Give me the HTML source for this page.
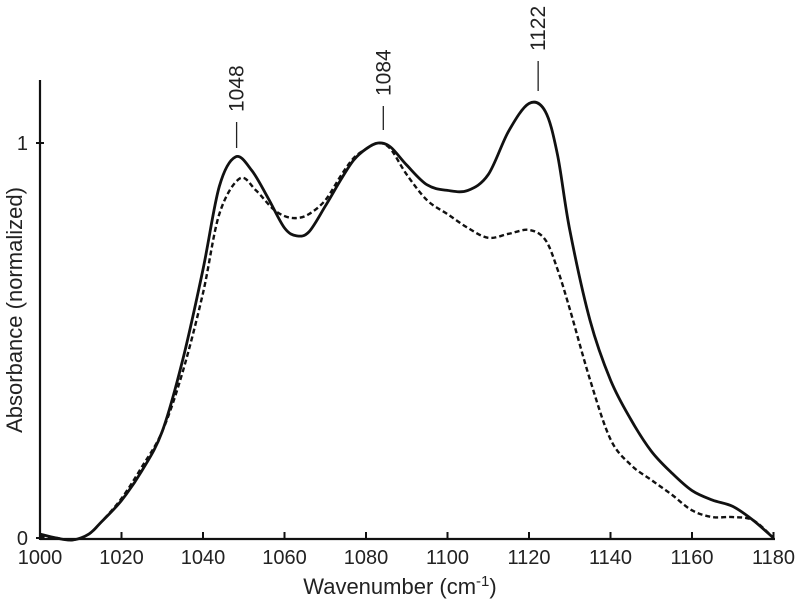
<!DOCTYPE html>
<html><head><meta charset="utf-8"><style>
html,body{margin:0;padding:0;background:#fff;}
svg{display:block;font-family:"Liberation Sans",sans-serif;}
</style></head><body>
<svg id="chart" width="800" height="604" viewBox="0 0 800 604">
<g id="axes"></g><g id="series"></g><g id="annots"></g>
<text x="400" y="594" font-size="22" text-anchor="middle" fill="#222">Wavenumber (cm<tspan dy="-8" font-size="15">-1</tspan><tspan dy="8">)</tspan></text>
<text transform="translate(22,310) rotate(-90)" font-size="22" text-anchor="middle" fill="#222">Absorbance (normalized)</text>
</svg>
<script>
const xTicks=[1000,1020,1040,1060,1080,1100,1120,1140,1160,1180];
const yTicks=[0,1];
const solidX=[1000,1004,1008,1012,1015,1020,1025,1030,1035,1040,1044,1048,1052,1056,1060,1063,1066,1070,1074,1077,1080,1083,1086,1090,1095,1100,1105,1110,1115,1120,1124,1127,1130,1135,1140,1145,1150,1155,1160,1165,1170,1175,1180];
const solidY=[0.01,0.0,-0.005,0.01,0.04,0.095,0.17,0.27,0.45,0.68,0.89,0.965,0.93,0.86,0.785,0.765,0.775,0.84,0.91,0.957,0.985,1.0,0.99,0.944,0.894,0.88,0.88,0.92,1.03,1.10,1.08,0.97,0.78,0.55,0.40,0.30,0.22,0.165,0.12,0.096,0.08,0.045,0.0];
const dashX=[1000,1004,1008,1012,1015,1020,1025,1030,1035,1040,1044,1049,1053,1057,1060,1063,1066,1070,1074,1077,1080,1083,1086,1090,1095,1100,1105,1110,1115,1120,1124,1127,1130,1135,1140,1145,1150,1155,1160,1165,1170,1175,1180];
const dashY=[0.005,0.0,-0.005,0.01,0.04,0.10,0.18,0.27,0.42,0.62,0.82,0.91,0.88,0.835,0.815,0.81,0.82,0.855,0.92,0.962,0.985,1.0,0.985,0.92,0.855,0.82,0.785,0.76,0.77,0.78,0.755,0.68,0.58,0.40,0.25,0.185,0.147,0.11,0.07,0.053,0.053,0.045,0.0];
const peakLabels=["1048","1084","1122"];
const peakX=[1048,1084,1122];
const peakLineTop=[122,106,61];
const peakLineBot=[148,130,91];
const NS="http://www.w3.org/2000/svg";
const xs=v=>40+(v-1000)*(773.5-40)/180;
const ys=v=>538-v*(538-143);
function mk(tag,attrs,parent){const e=document.createElementNS(NS,tag);for(const k in attrs)e.setAttribute(k,attrs[k]);parent.appendChild(e);return e;}
const axes=document.getElementById('axes');
let a=mk('line',{x1:40,y1:539,x2:775,y2:539,stroke:'#111','stroke-width':2.2},axes);


a=mk('line',{x1:40,y1:80,x2:40,y2:540,stroke:'#111','stroke-width':2.2},axes);


xTicks.forEach(t=>{
 const x=xs(t);
 let l=mk('line',{x1:x,y1:532,x2:x,y2:539,stroke:'#111','stroke-width':2},axes);
 
 
 let tx=mk('text',{x:x,y:564,'font-size':20,'text-anchor':'middle',fill:'#222'},axes);
 tx.textContent=t;
 
 
});
yTicks.forEach(t=>{
 const y=ys(t);
 let l=mk('line',{x1:36,y1:y,x2:44,y2:y,stroke:'#111','stroke-width':2},axes);
 
 
 let tx=mk('text',{x:28,y:y+7,'font-size':20,'text-anchor':'end',fill:'#222'},axes);
 tx.textContent=t;
 
 
});
function pathD(X,Y){
 const p=X.map((v,i)=>[xs(v),ys(Y[i])]);
 let d='M'+p[0][0]+','+p[0][1];
 for(let i=0;i<p.length-1;i++){
  const p0=p[i-1]||p[i],p1=p[i],p2=p[i+1],p3=p[i+2]||p2;
  const c1=[p1[0]+(p2[0]-p0[0])/6,p1[1]+(p2[1]-p0[1])/6];
  const c2=[p2[0]-(p3[0]-p1[0])/6,p2[1]-(p3[1]-p1[1])/6];
  d+=' C'+c1+' '+c2+' '+p2;
 }
 return d;
}
const ser=document.getElementById('series');
let s=mk('path',{d:pathD(dashX,dashY),fill:'none',stroke:'#111','stroke-width':2.4,'stroke-dasharray':'5,3'},ser);


s=mk('path',{d:pathD(solidX,solidY),fill:'none',stroke:'#111','stroke-width':2.8},ser);


const an=document.getElementById('annots');
peakLabels.forEach((lab,i)=>{
 const x=xs(peakX[i])+1;
 let l=mk('line',{x1:x,y1:peakLineTop[i],x2:x,y2:peakLineBot[i],stroke:'#222','stroke-width':1.3},an);
 
 
 const cy=peakLineTop[i]-10;
 let t=mk('text',{transform:'translate('+(x+7)+','+cy+') rotate(-90)','font-size':21,'text-anchor':'start',fill:'#222'},an);
 t.textContent=lab;
 
 
});
</script>
</body></html>
